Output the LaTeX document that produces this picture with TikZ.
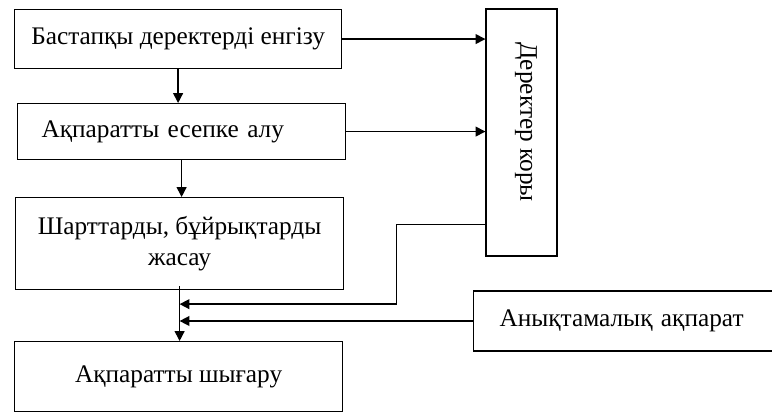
\documentclass[tikz,border=0pt]{standalone}
\usepackage{fontspec}
\setmainfont{Liberation Serif}
\usetikzlibrary{arrows.meta,calc,positioning}
\tikzset{
  stagebox/.style={draw, line width=0.8pt, anchor=north west, minimum width=8.2cm, align=center, font=\fontsize{18}{20}\selectfont},
  storebox/.style={draw, line width=0.8pt, minimum width=1.775cm, minimum height=6.175cm},
  notebox/.style={draw, line width=0.8pt, anchor=west, minimum width=7.75cm, minimum height=1.5cm, text width=6.45cm, inner xsep=0.65cm, align=left, font=\fontsize{18}{20}\selectfont},
  arrow/.style={-{Triangle[length=7pt, width=7pt]}, line width=1pt}
}

\begin{document}
\begin{tikzpicture}[x=0.025cm, y=-0.025cm]
  \useasboundingbox (0,0) rectangle (772,412);
  \node[stagebox, minimum width=8.175cm, minimum height=1.475cm] (input) at (14,9) {Бастапқы деректерді енгізу};
  \node[stagebox, minimum height=1.4cm, text width=7.0cm, inner xsep=0.6cm, align=left] (account) at (17,103) {Ақпаратты есепке алу};
  \node[stagebox, minimum height=2.3cm] (rules) at (15,197) {Шарттарды, бұйрықтарды\\[2pt]жасау};
  \node[stagebox, minimum height=1.75cm] (output) at (14,341) {Ақпаратты шығару};
  \node[storebox] (db) at (521.5,132.5) {};
  \node[rotate=-90, font=\fontsize{18}{20}\selectfont] (dbtext) at (526,122) {Деректер коры};
  \node[notebox] (info) at (473,321) {Анықтамалық ақпарат};

  \coordinate (j1) at ($(rules.south)+(0,14)$);
  \coordinate (j2) at (rules.south |- info.west);

  \draw[arrow] (input.east) -- (input.east -| db.west);
  \draw[arrow] (account.east) -- (account.east -| db.west);
  \draw[arrow] (input.south) -- (input.south |- account.north);
  \draw[arrow] (account.south) -- (account.south |- rules.north);
  \draw[arrow] ([yshift=0.1cm]rules.south) -- (rules.south |- output.north);
  \draw[arrow] ([yshift=0.8cm]db.south west) -- ++(-89,0) |- (j1);
  \draw[arrow] (info.west) -- (j2);
\end{tikzpicture}
\end{document}
